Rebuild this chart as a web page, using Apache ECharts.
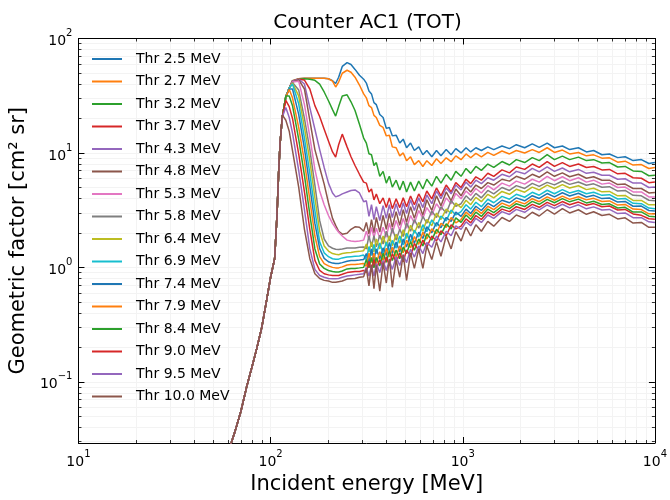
<!DOCTYPE html>
<html><head><meta charset="utf-8">
<script src="https://cdn.jsdelivr.net/npm/echarts@6/dist/echarts.min.js"></script>
<style>html,body{margin:0;padding:0;background:#fff}#c{width:670px;height:500px}</style>
</head><body><div id="c"></div>
<script>
const titleText = 'Counter AC1 (TOT)';
const xName = 'Incident energy [MeV]';
const yName = 'Geometric factor [cm\u00B2 sr]';
const seriesNames = ['Thr 2.5 MeV','Thr 2.7 MeV','Thr 3.2 MeV','Thr 3.7 MeV','Thr 4.3 MeV','Thr 4.8 MeV','Thr 5.3 MeV','Thr 5.8 MeV','Thr 6.4 MeV','Thr 6.9 MeV','Thr 7.4 MeV','Thr 7.9 MeV','Thr 8.4 MeV','Thr 9.0 MeV','Thr 9.5 MeV','Thr 10.0 MeV'];
const colors = ['#1f77b4','#ff7f0e','#2ca02c','#d62728','#9467bd','#8c564b','#e377c2','#7f7f7f','#bcbd22','#17becf','#1f77b4','#ff7f0e','#2ca02c','#d62728','#9467bd','#8c564b'];

// energies (MeV)
const energyRise = [55,60,65,70,75,80,85,90,95,100,105,108,110,112];
const energyPeak = [115,120,125,130,140,150,160,170,180,190,200,210,218,226,236,250,262,275,290,305];
const energyTail = [315,325,335,345,355,370,385,400,415,430,450,470,490,510,535,560,590,620,650,690,730,770,820,870,920,980,1040,1100,1170,1250,1350,1450,1600,1750,1900,2100,2300,2500,2750,3000,3300,3600,4000,4400,4800,5300,5800,6400,7000,7700,8500,9300,10000];

// common rising edge (all thresholds)
const riseVals = [0.016,0.024,0.036,0.055,0.09,0.135,0.2,0.3,0.5,0.82,1.2,2.9,6.5,12];

// per-threshold values on energyPeak + energyTail
const thr25 = [20.5,30.9,36.9,42.8,44.5,44.9,44.9,44.9,44.9,44.9,44.5,42.8,40.4,45.9,57.0,61.6,59.3,53.7,47.7,44.1,
 40.8,34.8,32.8,27.5,26.4,21.7,20.4,16.4,16.7,14.1,14.3,12.2,13.2,11.1,12.2,10.5,11.3,9.64,10.5,9.27,10.5,9.45,10.7,9.64,10.9,10.0,11.1,10.2,11.1,10.5,11.3,10.7,11.5,10.9,11.8,11.1,12.0,11.2,12.2,11.1,11.5,10.7,11.1,10.2,10.5,9.64,9.8,9.10,9.27,8.58,8.75,8.08,8.24];
const thr27 = [20.5,30.9,36.9,42.8,44.5,44.9,44.9,44.9,44.9,44.9,44.5,42.4,37.7,41.6,49.7,52.8,50.7,45.9,39.2,32.8,
 30.3,25.9,24.9,21.3,20.4,17.4,16.7,14.1,14.3,11.3,11.1,9.43,10.0,8.56,9.25,7.91,8.56,7.61,8.56,7.76,8.9,8.07,9.07,8.39,9.43,8.73,9.8,9.07,9.9,9.25,10.1,9.53,10.4,9.8,10.5,10.0,10.7,10.1,11.1,10.1,10.6,9.8,10.1,9.43,9.62,9.0,9.07,8.31,8.48,7.83,7.91,7.31,7.46];
const thr32 = [20.5,30.9,36.9,42.4,44.1,44.5,44.1,43.1,40.0,34.1,28.6,23.9,21.0,25.4,31.5,32.2,28.0,23.5,17.8,13.5,
 12.2,9.84,9.65,7.77,8.24,6.25,6.90,5.45,6.25,5.03,5.78,4.75,5.67,4.56,5.56,4.65,5.67,4.84,5.89,5.13,6.25,5.45,6.51,5.78,6.90,6.25,7.32,6.63,7.62,7.04,8.0,7.47,8.41,7.85,8.74,8.24,9.10,8.57,9.65,8.74,9.37,8.74,9.19,8.57,8.74,8.16,8.24,7.54,7.62,6.97,6.90,6.32,6.38];
const thr37 = [20.5,30.9,36.9,42.4,44.1,43.3,36.2,25.9,20.8,16.1,12.7,10.2,9.2,11.8,14.6,11.3,9.27,7.77,6.51,5.56,
 5.45,4.56,4.84,3.89,4.38,3.60,4.05,3.33,4.05,3.26,3.97,3.33,4.05,3.39,4.21,3.53,4.38,3.75,4.65,3.97,4.94,4.21,5.24,4.56,5.50,4.99,5.89,5.39,6.19,5.78,6.64,6.25,7.11,6.70,7.54,7.18,8.00,7.47,8.41,7.62,8.24,7.62,8.00,7.47,7.62,7.11,7.18,6.57,6.63,6.07,6.01,5.50,5.56];
const thr43 = [20.5,30.9,36.9,42.4,44.1,40.0,24.9,16.1,10.7,7.47,5.45,4.47,4.13,4.22,4.39,4.56,4.70,4.75,4.47,3.75,
 3.82,2.79,3.53,2.62,3.39,2.57,3.46,2.68,3.53,2.73,3.60,2.84,3.67,2.96,3.90,3.14,4.05,3.33,4.30,3.60,4.65,3.98,4.94,4.39,5.24,4.75,5.56,5.03,5.78,5.39,6.07,5.78,6.51,6.19,6.90,6.57,7.32,6.84,7.54,6.90,7.39,6.84,7.18,6.63,6.77,6.38,6.38,5.89,5.95,5.45,5.45,4.99,5.03];
const thr48 = [20.5,30.9,36.9,41.6,43.7,36.2,19.3,10.7,7.47,5.34,3.67,2.68,2.33,2.07,1.95,1.99,2.15,2.26,2.24,2.07,
 2.47,1.95,2.62,1.99,2.73,2.03,2.84,2.15,2.96,2.24,3.07,2.33,3.20,2.47,3.39,2.68,3.60,2.84,3.90,3.14,4.22,3.46,4.56,3.82,4.84,4.22,5.03,4.56,5.24,4.89,5.50,5.24,5.89,5.67,6.25,5.89,6.51,6.13,6.84,6.25,6.70,6.19,6.51,6.01,6.19,5.78,5.78,5.29,5.34,4.89,4.89,4.47,4.52];
const thr53 = [20.5,30.9,36.9,41.6,42.4,26.4,13.8,7.18,4.65,3.52,2.84,2.42,2.20,2.03,1.88,1.73,1.70,1.68,1.70,1.73,
 2.07,1.75,2.24,1.82,2.20,1.80,2.24,1.84,2.43,1.99,2.57,2.11,2.68,2.20,2.84,2.43,3.14,2.68,3.33,2.87,3.60,3.17,4.05,3.60,4.43,3.98,4.65,4.26,4.89,4.47,5.18,4.75,5.45,5.13,5.67,5.34,5.89,5.56,6.25,5.72,6.19,5.72,6.07,5.56,5.78,5.34,5.45,4.99,5.03,4.56,4.56,4.13,4.13];
const thr58 = [20.5,30.9,36.9,41.2,35.5,20.0,10.7,5.24,2.57,1.77,1.54,1.47,1.44,1.43,1.45,1.48,1.48,1.48,1.50,1.51,
 1.45,1.89,1.51,1.89,1.51,1.91,1.60,2.07,1.70,2.20,1.73,2.15,1.86,2.45,2.07,2.62,2.20,2.79,2.43,3.10,2.73,3.39,2.98,3.82,3.42,
 3.60,4.22,3.86,4.43,4.05,4.70,4.39,4.99,4.70,5.18,4.89,5.42,5.10,5.53,5.26,5.69,5.31,5.58,5.22,5.37,5.01,5.07,4.64,4.70,4.26,4.22,3.86,3.82];
const thr64 = [20.5,30.9,36.9,40.8,31.5,16.7,8.58,4.05,2.07,1.54,1.39,1.32,1.30,1.29,1.32,1.34,1.35,1.37,1.38,1.40,
 1.60,1.36,1.67,1.36,1.77,1.45,1.88,1.54,1.88,1.54,1.95,1.63,2.13,1.79,2.33,1.99,2.47,2.07,2.62,2.31,2.98,2.62,3.23,2.96,3.64,3.33,3.86,3.53,4.09,3.75,4.35,4.05,4.61,4.35,4.81,4.54,5.03,4.75,5.24,4.89,5.29,4.94,5.17,4.78,4.91,4.57,4.61,4.22,4.25,3.85,3.85,3.52,3.52];
const thr69 = [20.5,30.9,36.9,40.0,26.9,13.5,6.64,3.13,1.67,1.34,1.24,1.19,1.18,1.18,1.21,1.23,1.24,1.25,1.26,1.28,
 1.17,1.52,1.27,1.59,1.32,1.63,1.32,1.67,1.38,1.72,1.47,1.88,1.57,1.99,1.67,2.11,1.84,2.36,2.05,2.60,2.29,2.81,2.55,3.17,2.87,
 3.07,3.53,3.23,3.71,3.39,3.94,3.67,4.17,3.94,4.35,4.10,4.53,4.27,4.72,4.40,4.78,4.47,4.70,4.40,4.54,4.26,4.32,3.96,4.00,3.63,3.60,3.30,3.26];
const thr74 = [20.5,30.9,36.2,36.2,21.7,10.9,5.13,2.42,1.46,1.20,1.12,1.09,1.08,1.08,1.10,1.13,1.15,1.15,1.16,1.17,
 1.32,1.11,1.45,1.18,1.45,1.19,1.48,1.27,1.65,1.33,1.67,1.37,1.77,1.51,1.95,1.63,2.03,1.79,2.26,2.01,2.47,2.22,2.73,2.52,3.04,2.79,3.23,2.96,3.42,3.14,3.64,3.39,3.86,3.67,4.05,3.82,4.23,4.00,4.42,4.13,4.49,4.20,4.44,4.12,4.26,3.99,4.04,3.72,3.77,3.42,3.43,3.14,3.11];
const thr79 = [20.5,30.9,35.8,30.3,16.7,8.41,3.89,1.88,1.24,1.08,1.03,1.00,0.99,0.99,1.01,1.05,1.06,1.06,1.07,1.08,
 1.02,1.33,1.10,1.33,1.08,1.37,1.15,1.47,1.23,1.50,1.24,1.54,1.34,1.73,1.48,1.86,1.59,2.03,1.77,2.17,1.97,2.43,2.24,2.73,2.45,
 2.62,3.04,2.79,3.23,2.96,3.42,3.20,3.64,3.42,3.80,3.59,3.98,3.75,4.13,3.86,4.19,3.93,4.14,3.89,4.01,3.76,3.81,3.50,3.55,3.23,3.20,2.94,2.92];
const thr84 = [20.5,31.5,31.5,25.9,13.2,6.38,2.89,1.45,1.07,0.98,0.94,0.92,0.91,0.91,0.93,0.97,0.98,0.98,0.99,1.00,
 1.17,0.99,1.22,0.99,1.22,1.03,1.33,1.11,1.40,1.15,1.42,1.19,1.51,1.32,1.68,1.41,1.77,1.54,1.97,1.73,2.15,1.93,2.40,2.17,2.71,2.47,2.87,2.62,3.04,2.79,3.23,3.01,3.42,3.26,3.60,3.40,3.77,3.56,3.93,3.67,3.99,3.74,3.95,3.66,3.78,3.54,3.59,3.30,3.35,3.04,3.05,2.80,2.77];
const thr90 = [20.5,28.8,25.4,20.0,9.8,4.56,2.15,1.15,0.94,0.88,0.86,0.85,0.85,0.85,0.87,0.90,0.91,0.92,0.92,0.94,
 0.90,1.13,0.92,1.18,0.96,1.17,0.98,1.24,1.04,1.32,1.10,1.34,1.12,1.42,1.24,1.62,1.40,1.73,1.50,1.88,1.70,2.09,1.89,2.36,2.17,
 2.29,2.65,2.45,2.84,2.62,3.04,2.84,3.23,3.07,3.39,3.21,3.55,3.35,3.70,3.46,3.76,3.53,3.72,3.49,3.61,3.39,3.44,3.17,3.21,2.93,2.85,2.66,2.64];
const thr95 = [20.5,24.9,20.4,14.9,7.04,3.19,1.45,0.96,0.85,0.82,0.80,0.795,0.795,0.80,0.82,0.84,0.85,0.86,0.87,0.88,
 1.00,0.84,1.04,0.84,1.08,0.90,1.15,0.94,1.15,0.96,1.24,1.04,1.29,1.10,1.44,1.23,1.54,1.32,1.65,1.50,1.88,1.67,2.07,1.89,2.31,2.15,2.50,2.31,2.68,2.47,2.87,2.68,3.07,2.90,3.21,3.03,3.37,3.18,3.51,3.28,3.56,3.31,3.52,3.25,3.38,3.17,3.21,2.95,2.99,2.72,2.72,2.50,2.47];
const thr100 = [21.5,19.3,15.5,10.5,5.03,2.15,1.19,0.88,0.80,0.77,0.76,0.74,0.74,0.75,0.76,0.79,0.795,0.80,0.82,0.83,
 0.98,0.69,1.06,0.65,1.04,0.62,1.10,0.73,1.19,0.67,1.17,0.82,1.29,0.77,1.34,0.98,1.45,0.98,1.54,1.17,1.68,1.25,1.88,1.45,2.05,1.70,2.24,1.88,2.36,2.07,2.52,2.29,2.73,2.52,2.87,2.68,3.03,2.81,3.19,2.92,3.26,2.99,3.19,2.91,3.06,2.84,2.91,2.65,2.71,2.44,2.47,2.24,2.24];

const allValues = [thr25,thr27,thr32,thr37,thr43,thr48,thr53,thr58,thr64,thr69,thr74,thr79,thr84,thr90,thr95,thr100];

// axis ranges
const xMin = 10, xMax = 10000, yMin = 0.0292, yMax = 100;
const xMajorTicks = [1,2,3,4];          // exponents
const yMajorTicks = [-1,0,1,2];

const FONT = 'DejaVu Sans';
const energies = energyRise.concat(energyPeak, energyTail);

const lxMin = Math.log10(xMin), lxMax = Math.log10(xMax), lyMin = Math.log10(yMin), lyMax = Math.log10(yMax);
const xMinor = [], yMinor = [];
for (let n = 1; n < 4; n++) for (let k = 2; k < 10; k++) xMinor.push(Math.log10(k * Math.pow(10, n)));
for (let n = -2; n < 2; n++) for (let k = 2; k < 10; k++) { const v = Math.log10(k * Math.pow(10, n)); if (v > lyMin && v < lyMax) yMinor.push(v); }

function expLabel(v) {
  const e = Math.round(v);
  return '{b|10}{s|' + (e < 0 ? '\u2212' + (-e) : String(e)) + '}';
}
const richLab = {
  b: { fontSize: 14, fontFamily: FONT, color: '#000', lineHeight: 20, verticalAlign: 'bottom' },
  s: { fontSize: 10, fontFamily: FONT, color: '#000', lineHeight: 12, verticalAlign: 'top' }
};
const GRIDC = '#f3f3f3';

function ovl(dim, pos, major, labels) {
  const isX = dim === 'x';
  const ax = {
    type: 'value', position: pos,
    min: isX ? lxMin : lyMin, max: isX ? lxMax : lyMax,
    axisLine: { show: major, onZero: false, lineStyle: { color: '#000', width: 1 } },
    axisTick: { show: true, inside: true, length: major ? 6 : 3,
      customValues: major ? (isX ? xMajorTicks : yMajorTicks) : (isX ? xMinor : yMinor),
      lineStyle: { color: '#000', width: major ? 1 : 0.8 } },
    axisLabel: { show: false },
    splitLine: { show: (pos === 'bottom' || pos === 'left'), lineStyle: { color: GRIDC, width: 1 } },
    silent: true
  };
  if (labels) {
    ax.axisLabel = { show: true, customValues: isX ? xMajorTicks : yMajorTicks, formatter: expLabel, rich: richLab, margin: isX ? 6 : 6 };
  }
  return ax;
}

const xAxes = [
  { type: 'log', logBase: 10, min: xMin, max: xMax, show: false, position: 'bottom' },
  Object.assign(ovl('x', 'bottom', true, true), { name: xName, nameLocation: 'middle', nameGap: 31,
    nameTextStyle: { fontFamily: FONT, fontSize: 21, color: '#000' } }),
  ovl('x', 'bottom', false, false),
  ovl('x', 'top', true, false),
  ovl('x', 'top', false, false)
];
const yAxes = [
  { type: 'log', logBase: 10, min: yMin, max: yMax, show: false, position: 'left' },
  Object.assign(ovl('y', 'left', true, true), { name: yName, nameLocation: 'middle', nameGap: 44, nameRotate: 90,
    nameTextStyle: { fontFamily: FONT, fontSize: 21, color: '#000' } }),
  ovl('y', 'left', false, false),
  ovl('y', 'right', true, false),
  ovl('y', 'right', false, false)
];

const series = seriesNames.map((name, i) => ({
  type: 'line', name: name, xAxisIndex: 0, yAxisIndex: 0,
  data: energies.map((e, j) => [e, riseVals.concat(allValues[i])[j]]),
  symbol: 'none', showSymbol: false, clip: true,
  lineStyle: { width: 1.5, color: colors[i] }, itemStyle: { color: colors[i] },
  emphasis: { disabled: true }, animation: false
}));

const chart = echarts.init(document.getElementById('c'), null, { renderer: 'canvas' });
chart.setOption({
  animation: false,
  backgroundColor: '#fff',
  title: { text: titleText, left: 367.5, top: 13, textAlign: 'center', padding: 0,
    textStyle: { fontFamily: FONT, fontSize: 20, fontWeight: 'normal', color: '#000' } },
  grid: { left: 78, right: 13, top: 38.5, bottom: 49, containLabel: false },
  legend: { orient: 'vertical', left: 92, top: 52, padding: 0, itemWidth: 30, itemHeight: 2, itemGap: 8.5,
    icon: 'rect', data: seriesNames, selectedMode: false,
    textStyle: { fontFamily: FONT, fontSize: 14, color: '#000', lineHeight: 14, padding: [0, 0, 0, 9] } },
  xAxis: xAxes,
  yAxis: yAxes,
  series: series
});
</script>
</body></html>
